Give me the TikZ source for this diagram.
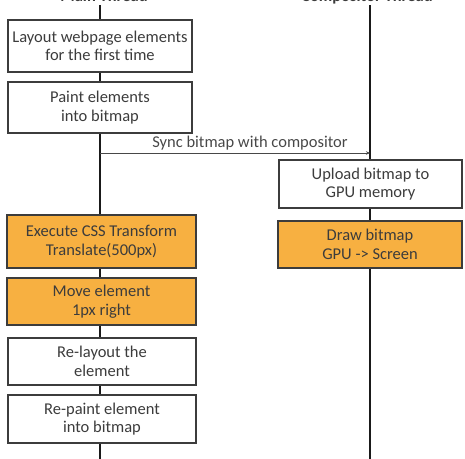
\documentclass[tikz,border=0pt]{standalone}
\usepackage{fontspec}
\setmainfont{Carlito}
\usetikzlibrary{arrows.meta,positioning}
\definecolor{task}{HTML}{F7B041}
\definecolor{ink}{HTML}{1A1A1A}

\begin{document}
\begin{tikzpicture}[x=1pt,y=-1pt,font=\fontsize{16.5}{18.5}\selectfont,text=ink!85,step box/.style={draw=ink!85,line width=1.2pt,fill=white,align=center,inner sep=0pt},busy/.style={step box,fill=task},thread/.style={draw=ink,line width=1.8pt}]
 \useasboundingbox (0,0) rectangle (465,458);
 \clip (0,0) rectangle (465,458);
 % thread headers (cut by the top edge)
 \node[anchor=base,font=\bfseries\fontsize{16.5}{18.5}\selectfont] (mainhead) at (104,1.5) {Main Thread};
 \node[anchor=base,font=\bfseries\fontsize{16.5}{18.5}\selectfont] (comphead) at (367,1.5) {Compositor Thread};
 \coordinate (maintop) at (100,5);
 \coordinate (mainbot) at (100,460);
 \coordinate (comptop) at (370,5);
 \coordinate (compbot) at (370,460);
 \draw[thread] (maintop) -- (mainbot);
 \draw[thread] (comptop) -- (compbot);
 % main thread steps
 \node[step box,minimum width=184pt,minimum height=52pt] (layout) at (100,46) {Layout webpage elements\\for the first time};
 \node[step box,minimum width=184pt,minimum height=51pt] (paint) at (100,107.5) {Paint elements\\into bitmap};
 \node[busy,minimum width=189pt,minimum height=53pt] (execute) at (101.5,241.5) {Execute CSS Transform\\Translate(500px)};
 \node[busy,minimum width=189pt,minimum height=47pt] (move) at (101.5,301.5) {Move element\\1px right};
 \node[step box,minimum width=188pt,minimum height=47pt] (relayout) at (102,361.5) {Re-layout the\\element};
 \node[step box,minimum width=188pt,minimum height=48pt] (repaint) at (102,419) {Re-paint element\\into bitmap};
 % compositor thread steps
 \node[step box,minimum width=183pt,minimum height=48pt] (upload) at (370.5,184) {Upload bitmap to\\GPU memory};
 \node[busy,minimum width=184pt,minimum height=47pt] (drawbmp) at (370,244.5) {Draw bitmap\\GPU -> Screen};
 % sync message
 \coordinate (syncfrom) at (100,153);
 \coordinate (syncto) at (370,153);
 \draw[-{Stealth[length=4pt,width=3.5pt]},line width=0.6pt,ink!80] (syncfrom) -- node[above=-1pt,xshift=15pt]{Sync bitmap with compositor} (syncto);
\end{tikzpicture}
\end{document}
